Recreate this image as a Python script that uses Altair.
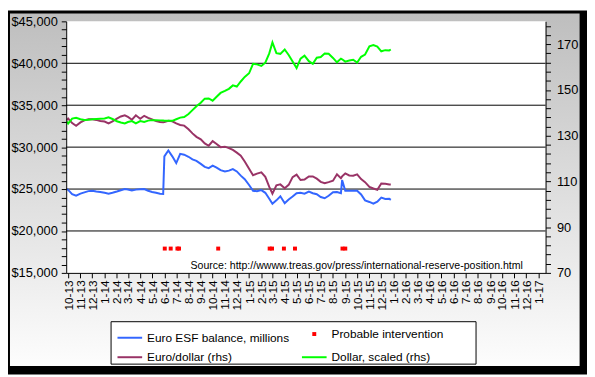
import altair as alt
import pandas as pd

FONT = "Liberation Sans"

# legend fills column by column: column 1 = ESF, Euro/dollar; column 2 = intervention, Dollar
SERIES = ["Euro ESF balance, millions", "Euro/dollar (rhs)",
          "Probable intervention", "Dollar, scaled (rhs)"]
COLORS = ["#3366FF", "#993366", "#FF0000", "#00FF00"]
SHAPES = ["stroke", "stroke", "square", "stroke"]
SIZES = [625, 625, 4, 625]

dates = [
    "2013-09-28",
    "2013-10-01", "2013-10-11", "2013-10-21", "2013-11-01", "2013-11-11", "2013-11-21",
    "2013-12-01", "2013-12-11", "2013-12-21",
    "2014-01-01", "2014-01-11", "2014-01-21", "2014-02-01", "2014-02-11", "2014-02-21",
    "2014-03-01", "2014-03-11", "2014-03-21", "2014-04-01", "2014-04-11", "2014-04-21",
    "2014-05-01", "2014-05-11", "2014-05-21", "2014-05-29",
    "2014-06-01", "2014-06-11", "2014-06-21", "2014-07-01", "2014-07-11", "2014-07-21",
    "2014-08-01", "2014-08-11", "2014-08-21", "2014-09-01", "2014-09-11", "2014-09-21",
    "2014-10-01", "2014-10-11", "2014-10-21", "2014-11-01", "2014-11-11", "2014-11-21",
    "2014-12-01", "2014-12-11", "2014-12-21",
    "2015-01-01", "2015-01-11", "2015-01-21", "2015-02-01", "2015-02-11", "2015-02-21",
    "2015-03-01", "2015-03-11", "2015-03-21", "2015-04-01", "2015-04-11", "2015-04-21",
    "2015-05-01", "2015-05-11", "2015-05-21", "2015-06-01", "2015-06-11", "2015-06-21",
    "2015-07-01", "2015-07-11", "2015-07-21", "2015-08-01", "2015-08-11", "2015-08-21",
    "2015-08-24",
    "2015-09-01", "2015-09-11", "2015-09-21", "2015-10-01", "2015-10-11", "2015-10-21",
    "2015-11-01", "2015-11-11", "2015-11-21", "2015-12-01", "2015-12-11", "2015-12-21",
    "2015-12-25",
]

esf_balance = [
    25000,
    24900, 24400, 24200, 24450, 24600, 24750,
    24800, 24700, 24650,
    24550, 24450, 24550, 24700, 24850, 25000,
    24950, 24820, 24930, 24980, 25000, 24800,
    24650, 24550, 24450, 24420,
    28900, 29600, 28900, 28100, 29200, 29100,
    28850, 28550, 28350, 28000, 27650, 27500,
    27800, 27560, 27250, 27100, 27200, 27380,
    27100, 26600, 26180,
    25480, 24800, 24730, 24870, 24550, 23850,
    23250, 23650, 24130, 23300, 23750, 24100,
    24500, 24550, 24450, 24700, 24500, 24380,
    24050, 23900, 24200, 24620, 24650, 24500,
    26070,
    24800, 24800, 24800, 24800, 24350, 23650,
    23460, 23250, 23500, 23980, 23820, 23850,
    23710,
]

euro_dollar = [
    136.8,
    137.5, 135.5, 134.3, 135.8, 136.7, 137.2,
    137.2, 136.9, 136.4,
    136.2, 135.4, 136.3, 137.5, 138.4, 138.9,
    138.2, 137.0, 138.9, 137.4, 138.7, 137.8,
    137.1, 136.4, 136.0, 135.9,
    136.0, 136.5, 136.3, 135.4, 134.7, 134.4,
    132.8, 131.0, 129.5, 128.4, 126.6, 125.6,
    127.6, 126.4, 125.0, 125.2, 124.6, 123.8,
    122.6, 121.3, 118.7,
    115.5, 112.7, 113.4, 114.0, 112.0, 107.6,
    104.6, 108.3, 108.7, 107.0, 108.5, 111.9,
    113.0, 110.6, 110.8, 112.2, 112.2, 111.2,
    109.8, 109.2, 109.7, 110.3, 113.1, 111.4,
    112.2,
    113.5, 112.6, 112.5, 113.1, 111.0, 109.7,
    107.6, 106.9, 106.3, 109.1, 109.0, 108.7,
    108.7,
]

dollar_scaled = [
    136.2,
    135.3, 137.5, 137.8, 137.2, 136.9, 137.0,
    137.2, 137.3, 137.4,
    137.5, 138.0, 137.3, 136.3, 135.8, 135.4,
    136.0, 136.4, 135.4, 136.4, 136.0, 136.6,
    136.8, 136.8, 136.7, 136.6,
    136.5, 136.5, 136.5, 137.2, 137.9, 138.2,
    139.5, 141.2, 142.9, 144.4, 146.2, 146.3,
    145.3, 147.0, 148.7, 149.6, 150.5, 152.0,
    151.5, 153.7, 155.7,
    157.3, 161.4, 161.2, 160.5, 161.9, 166.0,
    170.8, 166.1, 165.8, 167.7, 165.3, 162.4,
    159.6, 163.7, 165.0, 162.6, 161.4, 164.1,
    164.4, 165.9, 165.8, 164.0, 162.1, 163.7,
    163.4,
    162.4, 162.9, 163.2, 162.0, 164.5, 165.5,
    169.1, 169.6, 169.0, 166.9, 167.4, 167.3,
    167.7,
]

intervention_dates = [
    "2014-06-02", "2014-06-17", "2014-07-04", "2014-07-08", "2014-10-15",
    "2015-02-22", "2015-02-28", "2015-03-30", "2015-04-27", "2015-08-25", "2015-09-01",
]
intervention_level = [17900, 17900, 17900, 17900, 17900,
                      17900, 17900, 17900, 17900, 17900, 17900]

grid_values = [20000, 25000, 30000, 35000, 40000]
left_ticks = list(range(15000, 45001, 1000))
right_ticks = list(range(70, 181, 4))
source_text = "Source: http://wwww.treas.gov/press/international-reserve-position.html"
source_pos = ["2014-08-06"]
source_level = [15450]

W, H = 486, 255

df_esf = pd.DataFrame({"date": pd.to_datetime(dates), "value": esf_balance,
                       "series": "Euro ESF balance, millions"})
df_rhs = pd.concat([
    pd.DataFrame({"date": pd.to_datetime(dates), "value": euro_dollar, "series": "Euro/dollar (rhs)"}),
    pd.DataFrame({"date": pd.to_datetime(dates), "value": dollar_scaled, "series": "Dollar, scaled (rhs)"}),
])
df_int = pd.DataFrame({"date": pd.to_datetime(intervention_dates), "value": intervention_level,
                       "series": "Probable intervention"})
df_grid = pd.DataFrame({"value": grid_values})
df_src = pd.DataFrame({"date": pd.to_datetime(source_pos), "value": source_level, "text": [source_text]})
one = pd.DataFrame({"k": [0]})

x_scale = alt.Scale(domain=[alt.DateTime(year=2013, month=9, date=26),
                            alt.DateTime(year=2017, month=1, date=19)])
left_scale = alt.Scale(domain=[15000, 45000], nice=False, zero=False)
right_scale = alt.Scale(domain=[70, 180], nice=False, zero=False)
color_scale = alt.Scale(domain=SERIES, range=COLORS)
shape_scale = alt.Scale(domain=SERIES, range=SHAPES)
size_scale = alt.Scale(type="ordinal", domain=SERIES, range=SIZES)

common_axis = dict(labelFont=FONT, labelColor="black", domainColor="black", tickColor="black",
                   tickSize=5, grid=False, title=None, labelOverlap=False, zindex=1)

x_axis = alt.Axis(format="%-m-%y", labelAngle=-90, tickCount={"interval": "month", "step": 1},
                  labelFontSize=12, labelPadding=2, labelFlush=False, **common_axis)
left_axis = alt.Axis(orient="left", values=left_ticks, format="$,d", labelFontSize=13, labelPadding=4,
                     labelExpr="datum.value % 5000 == 0 ? datum.label : ''",
                     **common_axis)
right_axis = alt.Axis(orient="right", values=right_ticks, labelFontSize=13, labelPadding=6,
                      labelExpr="(datum.value - 70) % 20 == 0 ? datum.label : ''",
                      **common_axis)

legend = alt.Legend(
    orient="none", legendX=51, legendY=307, columns=2, title=None,
    symbolStrokeWidth=2, symbolOpacity=1,
    labelFont=FONT, labelFontSize=12, labelColor="black", labelLimit=400,
    padding=0, rowPadding=-1, columnPadding=8, labelOffset=4,
)

x_enc = alt.X("date:T", scale=x_scale, axis=x_axis)
color_enc = alt.Color("series:N", scale=color_scale, legend=legend)

frame = alt.Chart(one).mark_rect(fill="black").encode(
    x=alt.value(-59), x2=alt.value(528), y=alt.value(-11), y2=alt.value(358))
grad = alt.Chart(one).mark_rect(fill=alt.LinearGradient(
    gradient="linear",
    stops=[alt.GradientStop(color="#bebebe", offset=0), alt.GradientStop(color="#fdfdfd", offset=1)],
    x1=0, x2=0, y1=0, y2=1)).encode(
    x=alt.value(-57), x2=alt.value(520.5), y=alt.value(-8), y2=alt.value(349.5))
plot_bg = alt.Chart(one).mark_rect(fill="white").encode(
    x=alt.value(0), x2=alt.value(W), y=alt.value(0), y2=alt.value(H))
legend_box = alt.Chart(one).mark_rect(fill="white", stroke="black", strokeWidth=1).encode(
    x=alt.value(45.5), x2=alt.value(415.5), y=alt.value(304.5), y2=alt.value(347.5))

# ESF balance line carries the left axis
blue = alt.Chart(df_esf).mark_line(strokeWidth=2).encode(
    x=x_enc, y=alt.Y("value:Q", scale=left_scale, axis=left_axis), color=color_enc)

grid = alt.Chart(df_grid).mark_rule(color="black", strokeWidth=1).encode(
    y=alt.Y("value:Q", scale=left_scale, axis=None))

markers = alt.Chart(df_int).mark_point(filled=False, strokeWidth=2, opacity=1).encode(
    x=x_enc, y=alt.Y("value:Q", scale=left_scale, axis=None), color=color_enc,
    shape=alt.Shape("series:N", scale=shape_scale, legend=legend),
    size=alt.Size("series:N", scale=size_scale, legend=legend))

source = alt.Chart(df_src).mark_text(align="left", baseline="alphabetic", font=FONT,
                                     fontSize=10.7, color="black").encode(
    x=x_enc, y=alt.Y("value:Q", scale=left_scale, axis=None), text="text:N")

rhs = alt.Chart(df_rhs).mark_line(strokeWidth=2).encode(
    x=x_enc, y=alt.Y("value:Q", scale=right_scale, axis=right_axis), color=color_enc)

chart = alt.layer(frame, grad, plot_bg, legend_box, grid, blue, markers, source, rhs).resolve_scale(
    y="independent").properties(
    width=W, height=H,
    padding={"left": 59, "top": 11, "right": 42, "bottom": 103},
    autosize=alt.AutoSizeParams(type="none"),
    background="white",
).configure_view(stroke=None)

chart.save("out.html", embed_options={"renderer": "svg", "actions": False})
